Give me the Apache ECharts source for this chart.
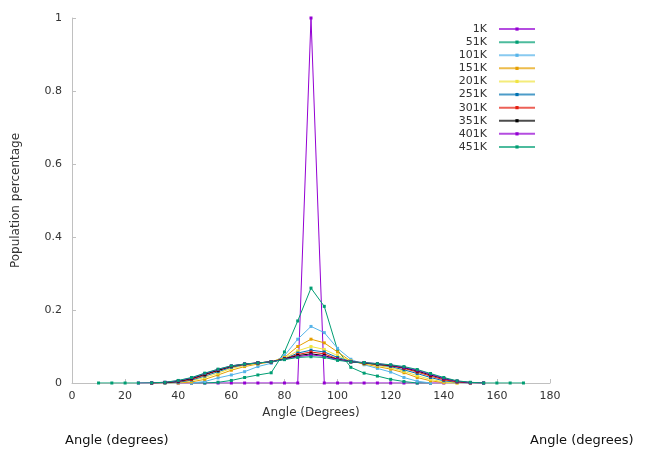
<!DOCTYPE html>
<html><head><meta charset="utf-8">
<script src="https://cdn.jsdelivr.net/npm/echarts@6/dist/echarts.min.js"></script>
<style>html,body{margin:0;padding:0;background:#fff}#c{width:653px;height:450px}</style>
</head><body><div id="c"></div>
<script>
const angles = [10,15,20,25,30,35,40,45,50,55,60,65,70,75,80,85,90,95,100,105,110,115,120,125,130,135,140,145,150,155,160,165,170];
const seriesNames = ['1K','51K','101K','151K','201K','251K','301K','351K','401K','451K'];
const s1K = [null,null,null,null,null,null,0,0,0,0,0,0,0,0,0,0,1,0,0,0,0,0,0,0,0,0,0,null,null,null,null,null,null];
const s51K = [null,null,null,null,null,null,null,0,0,0.002,0.007,0.015,0.022,0.028,0.085,0.17,0.26,0.21,0.09,0.043,0.027,0.019,0.01,0.004,0,0,null,null,null,null,null,null,null];
const s101K = [null,null,null,null,null,null,null,0,0.004,0.014,0.022,0.031,0.045,0.054,0.075,0.12,0.155,0.138,0.095,0.065,0.05,0.04,0.03,0.015,0.005,0,null,null,null,null,null,null,null];
const s151K = [null,null,null,null,null,null,0,0.003,0.01,0.022,0.035,0.045,0.052,0.058,0.07,0.1,0.12,0.11,0.085,0.06,0.052,0.045,0.038,0.028,0.015,0.006,0.001,0,null,null,null,null,null];
const s201K = [null,null,null,null,null,0,0.001,0.006,0.015,0.027,0.04,0.048,0.054,0.058,0.068,0.088,0.1,0.092,0.075,0.06,0.054,0.048,0.042,0.032,0.02,0.01,0.003,0,null,null,null,null,null];
const s251K = [null,null,null,null,null,0,0.002,0.008,0.019,0.031,0.043,0.05,0.055,0.058,0.066,0.082,0.09,0.085,0.07,0.059,0.055,0.05,0.045,0.036,0.026,0.015,0.006,0.002,0,null,null,null,null];
const s301K = [null,null,null,null,0,0.001,0.004,0.01,0.022,0.034,0.045,0.051,0.055,0.058,0.066,0.078,0.085,0.08,0.066,0.058,0.055,0.051,0.047,0.04,0.03,0.019,0.009,0.003,0,null,null,null,null];
const s351K = [null,null,null,null,0,0.001,0.005,0.012,0.024,0.035,0.046,0.052,0.055,0.058,0.066,0.075,0.08,0.075,0.065,0.058,0.055,0.052,0.048,0.042,0.033,0.022,0.012,0.005,0.001,0,null,null,null];
const s401K = [null,null,null,0,0.0005,0.002,0.006,0.014,0.026,0.037,0.047,0.052,0.055,0.058,0.065,0.072,0.077,0.073,0.064,0.058,0.056,0.053,0.049,0.043,0.035,0.024,0.013,0.005,0.001,0,null,null,null];
const s451K = [0,0,0,0,0.0005,0.002,0.007,0.015,0.027,0.038,0.047,0.052,0.055,0.058,0.064,0.07,0.072,0.07,0.062,0.058,0.056,0.053,0.05,0.045,0.037,0.026,0.015,0.006,0.002,0,0,0,0];
const seriesValues = [s1K,s51K,s101K,s151K,s201K,s251K,s301K,s351K,s401K,s451K];
const colors = ['#9400d3','#009e73','#56b4e9','#e69f00','#f0e442','#0072b2','#e51e10','#000000','#9400d3','#009e73'];
const xTicks = {min:0, max:180, interval:20};
const yTicks = {min:0, max:1, interval:0.2};

const FONT = 'DejaVu Sans';
const chart = echarts.init(document.getElementById('c'), null, {renderer:'canvas'});
const series = seriesNames.map((n,k)=>({
  name:n, type:'line',
  data: angles.map((a,i)=>[a, seriesValues[k][i]]),
  symbol:'rect', symbolSize:3, showSymbol:true,
  lineStyle:{width:1, color:colors[k]},
  itemStyle:{color:colors[k]},
  connectNulls:false
}));
chart.setOption({
  animation:false,
  color:colors,
  grid:{left:72,right:103,top:18,bottom:67},
  legend:{
    orient:'vertical', right:112, top:17.5, align:'right',
    itemWidth:36, itemHeight:4, itemGap:0,
    lineStyle:{width:2, opacity:0.7},
    textStyle:{fontFamily:FONT, fontSize:11, color:'#333', width:40, align:'right', lineHeight:13.1, padding:[0,7,0,0]},
    data:seriesNames
  },
  xAxis:{
    type:'value', min:xTicks.min, max:xTicks.max, interval:xTicks.interval,
    name:'Angle (Degrees)', nameLocation:'middle', nameGap:21,
    nameTextStyle:{fontFamily:FONT, fontSize:12, color:'#333'},
    axisLine:{lineStyle:{color:'#c0c0c0'}},
    axisTick:{inside:true, length:4, lineStyle:{color:'#c0c0c0'}},
    axisLabel:{fontFamily:FONT, fontSize:11, color:'#333', margin:8},
    splitLine:{show:false}
  },
  yAxis:{
    type:'value', min:yTicks.min, max:yTicks.max, interval:yTicks.interval,
    name:'Population percentage', nameLocation:'middle', nameGap:50, nameRotate:90,
    nameTextStyle:{fontFamily:FONT, fontSize:12, color:'#333'},
    axisLine:{show:true, lineStyle:{color:'#c0c0c0'}},
    axisTick:{show:true, inside:true, length:4, lineStyle:{color:'#c0c0c0'}},
    axisLabel:{fontFamily:FONT, fontSize:11, color:'#333', margin:10},
    splitLine:{show:false}
  },
  graphic:[
    {type:'text', left:65, top:434, style:{text:'Angle (degrees)', fontFamily:FONT, fontSize:13, fill:'#111'}},
    {type:'text', left:530, top:434, style:{text:'Angle (degrees)', fontFamily:FONT, fontSize:13, fill:'#111'}}
  ],
  series:series
});
</script></body></html>
